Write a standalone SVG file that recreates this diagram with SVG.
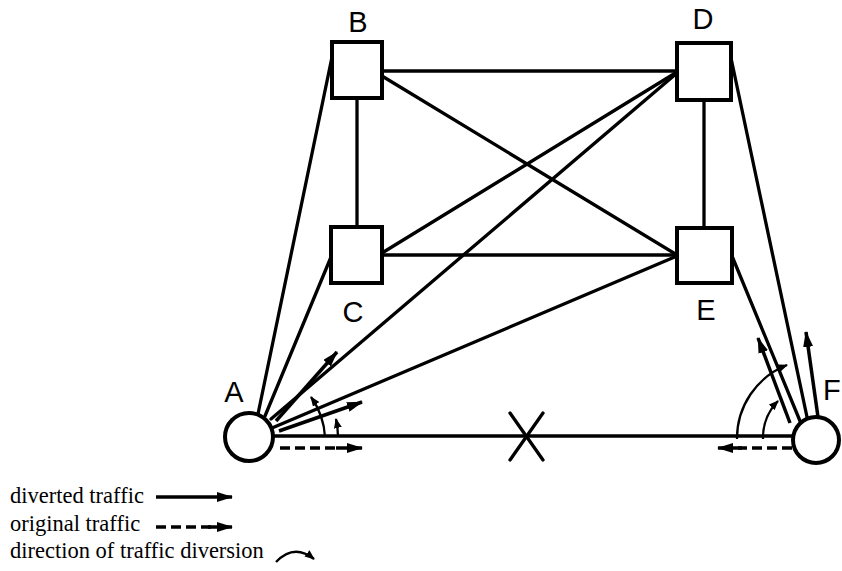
<svg xmlns="http://www.w3.org/2000/svg" width="842" height="571" viewBox="0 0 842 571">
<style>
.box{fill:#fff;stroke:#000;stroke-width:4}
.circ{fill:#fff;stroke:#000;stroke-width:4}
.lbl{font-family:"Liberation Sans",Arial,sans-serif;font-size:29px;fill:#000}
.leg{font-family:"Liberation Serif","Times New Roman",serif;font-size:22.5px;fill:#000}
.ln{stroke:#000;stroke-width:3.3;fill:none;stroke-linecap:round}
.ar{stroke:#000;stroke-width:3.5;fill:none;marker-end:url(#ah)}
.da{stroke:#000;stroke-width:3.5;fill:none;stroke-dasharray:10 5}
.arc{stroke:#000;stroke-width:2.3;fill:none;marker-end:url(#ahs)}
</style>
<defs>
<marker id="ah" markerUnits="userSpaceOnUse" markerWidth="16" markerHeight="10" refX="15" refY="5" orient="auto"><path d="M0,0 L16,5 L0,10 z" fill="#000"/></marker>
<marker id="ahs" markerUnits="userSpaceOnUse" markerWidth="10" markerHeight="8" refX="9" refY="4" orient="auto"><path d="M0,0 L10,4 L0,8 z" fill="#000"/></marker>
</defs>
<g id="connectors">
<line class="ln" x1="382" y1="71" x2="677" y2="71"/>
<line class="ln" x1="357" y1="98" x2="357" y2="227"/>
<line class="ln" x1="704" y1="100" x2="704" y2="228"/>
<line class="ln" x1="382" y1="255" x2="677" y2="255"/>
<line class="ln" x1="382" y1="76" x2="677" y2="255"/>
<line class="ln" x1="382" y1="253" x2="677" y2="72"/>
<line class="ln" x1="258" y1="414" x2="332" y2="57"/>
<line class="ln" x1="265" y1="416" x2="331" y2="257"/>
<line class="ln" x1="271" y1="419" x2="677" y2="73"/>
<line class="ln" x1="272" y1="428" x2="677" y2="256"/>
<line class="ln" x1="273" y1="436" x2="793" y2="436"/>
<line class="ln" x1="731" y1="58" x2="807" y2="417"/>
<line class="ln" x1="732" y1="256" x2="800" y2="421"/>
<line class="ln" x1="510" y1="413" x2="543" y2="460"/>
<line class="ln" x1="543" y1="413" x2="510" y2="460"/>
<line class="ar" x1="276" y1="421" x2="337" y2="352"/>
<line class="ar" x1="279" y1="431" x2="362" y2="402"/>
<line class="da" x1="280" y1="448" x2="340" y2="448"/>
<line class="ar" x1="336" y1="448" x2="362" y2="448"/>
<line class="ar" x1="790" y1="423" x2="758" y2="338"/>
<line class="ar" x1="818" y1="417" x2="806" y2="332"/>
<line class="da" x1="792" y1="448" x2="738" y2="448"/>
<line class="ar" x1="742" y1="448" x2="718" y2="448"/>
<path class="arc" d="M325,437 A76,76 0 0 0 311,397"/>
<path class="arc" d="M338,437 A89,89 0 0 0 336,419"/>
<path class="arc" d="M737,439 A79,79 0 0 1 787,365"/>
<path class="arc" d="M763,439 A53,53 0 0 1 778,401"/>
</g>
<g id="B"><rect class="box" x="332" y="42" width="50" height="56"/><text class="lbl" x="358" y="32" text-anchor="middle">B</text></g>
<g id="D"><rect class="box" x="677" y="43" width="54" height="57"/><text class="lbl" x="703" y="29" text-anchor="middle">D</text></g>
<g id="C"><rect class="box" x="331" y="227" width="51" height="56"/><text class="lbl" x="353" y="322" text-anchor="middle">C</text></g>
<g id="E"><rect class="box" x="677" y="228" width="55" height="55"/><text class="lbl" x="706" y="320" text-anchor="middle">E</text></g>
<g id="A"><circle class="circ" cx="249" cy="437" r="24"/><text class="lbl" x="234" y="402" text-anchor="middle">A</text></g>
<g id="F"><circle class="circ" cx="816" cy="440" r="23"/><text class="lbl" x="823" y="400">F</text></g>
<g id="legend">
<text class="leg" x="10" y="503">diverted traffic</text>
<line class="ar" x1="156" y1="497" x2="232" y2="497"/>
<text class="leg" x="10" y="531">original traffic</text>
<line class="da" x1="156" y1="527" x2="212" y2="527"/>
<line class="ar" x1="208" y1="527" x2="232" y2="527"/>
<text class="leg" x="10" y="558">direction of traffic diversion</text>
<path class="arc" d="M276,562 Q294,543 314,559"/>
</g>
</svg>
